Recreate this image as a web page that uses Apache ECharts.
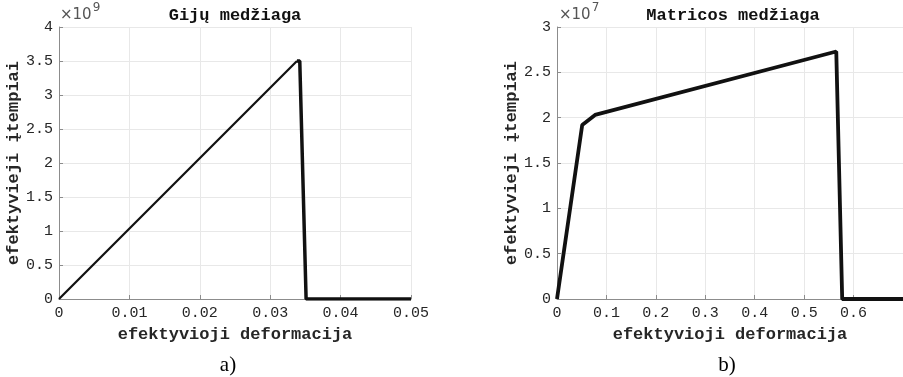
<!DOCTYPE html>
<html>
<head>
<meta charset="utf-8">
<script src="https://cdn.jsdelivr.net/npm/echarts@6/dist/echarts.min.js"></script>
<style>
html, body { margin: 0; padding: 0; background: #fff; }
#main { width: 903px; height: 377px; }
</style>
</head>
<body>
<div id="main"></div>
<script>
// ---- a) fibre material (stress in 1e9)
var fibreRiseStrain = [0, 0.0338];
var fibreRiseStress = [0, 3.5];
var fibreDropStrain = [0.0338, 0.0342, 0.0351, 0.05];
var fibreDropStress = [3.5, 3.5, 0, 0];

// ---- b) matrix material (stress in 1e7)
var matrixStrain = [0, 0.051, 0.077, 0.565, 0.577, 0.7];
var matrixStress = [0, 1.92, 2.03, 2.73, 0, 0];

var titles = ['Gijų medžiaga', 'Matricos medžiaga'];
var captions = ['a)', 'b)'];
var xName = 'efektyvioji deformacija';
var yName = 'efektyvieji įtempiai';

function pairs(xs, ys) {
    return xs.map(function (x, i) { return [x, ys[i]]; });
}

var mono = 'Liberation Mono';
var textCol = '#262626';
var axisCol = '#8c8c8c';
var gridCol = '#e8e8e8';

function xAxisOf(gridIndex, max, interval, gap) {
    return {
        type: 'value',
        gridIndex: gridIndex,
        min: 0,
        max: max,
        interval: interval,
        name: xName,
        nameLocation: 'middle',
        nameGap: gap,
        nameTextStyle: { fontFamily: mono, fontSize: 17, fontWeight: 'bold', color: textCol },
        axisLine: { lineStyle: { color: axisCol, width: 1 } },
        axisTick: { inside: true, length: 4, lineStyle: { color: axisCol } },
        axisLabel: { fontFamily: mono, fontSize: 15, color: textCol, margin: 7, showMaxLabel: gridIndex == 0 },
        splitLine: { show: true, lineStyle: { color: gridCol, width: 1 } }
    };
}

function yAxisOf(gridIndex, max, gap) {
    return {
        type: 'value',
        gridIndex: gridIndex,
        min: 0,
        max: max,
        interval: 0.5,
        name: yName,
        nameLocation: 'middle',
        nameGap: gap,
        nameTextStyle: { fontFamily: mono, fontSize: 17, fontWeight: 'bold', color: textCol },
        axisLine: { show: true, lineStyle: { color: axisCol, width: 1 } },
        axisTick: { show: true, inside: true, length: 4, lineStyle: { color: axisCol } },
        axisLabel: { fontFamily: mono, fontSize: 15, color: textCol, margin: 6 },
        splitLine: { show: true, lineStyle: { color: gridCol, width: 1 } }
    };
}

function multiplier(x, exp) {
    return {
        type: 'text',
        left: x,
        top: 2,
        style: {
            text: '{b|×10}{s|' + exp + '}',
            rich: {
                b: { fontFamily: 'DejaVu Sans', fontSize: 15, fill: '#555', padding: [6, 0, 0, 0] },
                s: { fontFamily: 'DejaVu Sans', fontSize: 12, fill: '#555', padding: [0, 0, 8, 1] }
            }
        }
    };
}

function label(text, x, y, font, size, weight, color) {
    return {
        type: 'text',
        x: x,
        y: y,
        style: {
            text: text,
            align: 'center',
            verticalAlign: 'middle',
            fontFamily: font,
            fontSize: size,
            fontWeight: weight,
            fill: color
        }
    };
}

var chart = echarts.init(document.getElementById('main'));
var option = {
    backgroundColor: '#fff',
    animation: false,
    grid: [
        { left: 59, top: 27, width: 352, height: 272 },
        { left: 557, top: 27, width: 357, height: 272 }
    ],
    xAxis: [
        xAxisOf(0, 0.05, 0.01, 26),
        xAxisOf(1, 0.7, 0.1, 26)
    ],
    yAxis: [
        yAxisOf(0, 4, 37),
        yAxisOf(1, 3, 32)
    ],
    graphic: [
        label(titles[0], 235, 16, mono, 17, 'bold', '#111'),
        label(titles[1], 733, 16, mono, 17, 'bold', '#111'),
        multiplier(60, 9),
        multiplier(559, 7),
        label(captions[0], 228, 365, 'Liberation Serif', 21, 'normal', '#000'),
        label(captions[1], 727, 365, 'Liberation Serif', 21, 'normal', '#000')
    ],
    series: [
        {
            type: 'line',
            xAxisIndex: 0,
            yAxisIndex: 0,
            data: pairs(fibreRiseStrain, fibreRiseStress),
            symbol: 'none',
            lineStyle: { color: '#111', width: 2.2 }
        },
        {
            type: 'line',
            xAxisIndex: 0,
            yAxisIndex: 0,
            data: pairs(fibreDropStrain, fibreDropStress),
            symbol: 'none',
            lineStyle: { color: '#111', width: 3.5 }
        },
        {
            type: 'line',
            xAxisIndex: 1,
            yAxisIndex: 1,
            data: pairs(matrixStrain, matrixStress),
            symbol: 'none',
            lineStyle: { color: '#111', width: 3.8 }
        }
    ]
};
chart.setOption(option);
</script>
</body>
</html>
